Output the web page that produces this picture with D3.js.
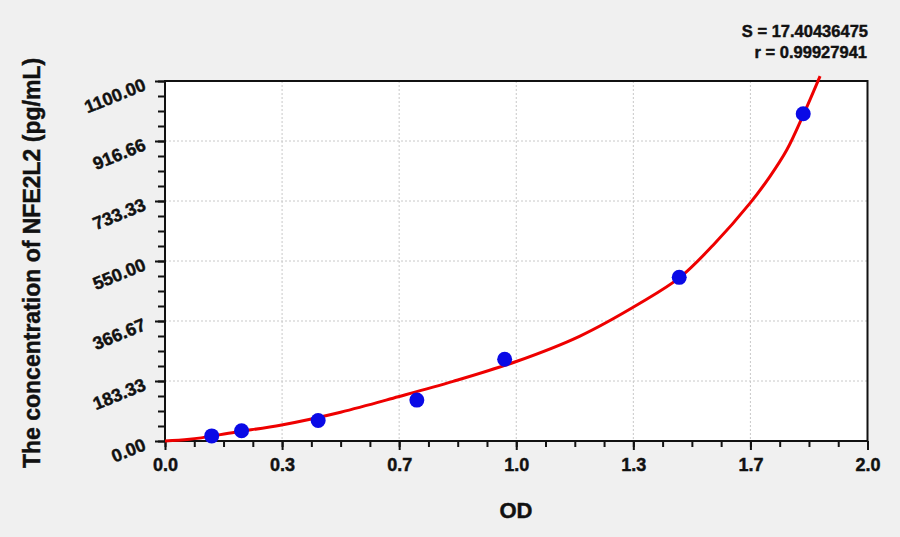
<!DOCTYPE html>
<html lang="en">
<head>
  <meta charset="UTF-8">
  <title>NFE2L2 standard curve</title>
  <style>
    body { margin: 0; background: #f0f0f0; }
    svg { font-family: "Liberation Sans", Arial, sans-serif; }
    svg text { stroke: #111; stroke-width: 0.45px; }
  </style>
</head>
<body>
  <svg id="chart" width="900" height="537"></svg>
<script src="https://cdn.jsdelivr.net/npm/d3@7"></script>
<script>
  // standards (OD, concentration)
  let odValues = [0.133, 0.218, 0.436, 0.717, 0.967, 1.464, 1.817]
  let concValues = [15.63, 31.25, 62.5, 125, 250, 500, 1000]

  // fitted curve
  let curveOd = [0, 0.07, 0.2, 0.332, 0.5, 0.664, 0.82, 1.0, 1.18, 1.352, 1.466, 1.561, 1.665, 1.722, 1.77, 1.817, 1.865]
  let curveConc = [0, 5, 27, 49, 88, 135, 182, 243, 320, 421, 500, 599, 726, 808, 889, 996, 1115]

  let xTicks = [0, 1/3, 2/3, 1, 4/3, 5/3, 2]
  let xTickLabels = ["0.0", "0.3", "0.7", "1.0", "1.3", "1.7", "2.0"]
  let yTicks = [0, 183.33, 366.67, 550, 733.33, 916.66, 1100]
  let yTickLabels = ["0.00", "183.33", "366.67", "550.00", "733.33", "916.66", "1100.00"]

  let statS = "S = 17.40436475"
  let statR = "r = 0.99927941"

  let svg = d3.select("#chart")
  let plotLeft = 165, plotRight = 867.5, plotTop = 81, plotBottom = 441

  let x = d3.scaleLinear().domain([0, 2]).range([plotLeft, plotRight])
  let y = d3.scaleLinear().domain([0, 1100]).range([plotBottom, plotTop])

  svg.append("rect")
     .attr("x", plotLeft).attr("y", plotTop)
     .attr("width", plotRight - plotLeft).attr("height", plotBottom - plotTop)
     .attr("fill", "white")

  // grid
  let grid = svg.append("g").attr("stroke", "#c8c8c8").attr("stroke-dasharray", "2,2").attr("stroke-width", 1)
  grid.selectAll(".gx").data(xTicks.slice(1, -1)).enter().append("line")
      .attr("x1", d => x(d)).attr("x2", d => x(d))
      .attr("y1", plotTop).attr("y2", plotBottom)
  grid.selectAll(".gy").data(yTicks.slice(1, -1)).enter().append("line")
      .attr("x1", plotLeft).attr("x2", plotRight)
      .attr("y1", d => y(d)).attr("y2", d => y(d))

  // minor ticks
  let xMinor = d3.range(0, 25).map(i => i / 12)
  let yMinor = d3.range(0, 25).map(i => i * 1100 / 24)

  let xAxis = d3.axisBottom(x).tickValues(xMinor).tickSize(6).tickFormat("")
  let yAxis = d3.axisLeft(y).tickValues(yMinor).tickSize(7).tickFormat("")

  svg.append("g").attr("transform", `translate(0,${plotBottom})`).call(xAxis)
  svg.append("g").attr("transform", `translate(${plotLeft},0)`).call(yAxis)
  let gx2 = svg.append("g").attr("transform", `translate(0,${plotBottom})`)
               .call(d3.axisBottom(x).tickValues(xTicks).tickSize(9).tickFormat((d, i) => xTickLabels[i]))
  let gy2 = svg.append("g").attr("transform", `translate(${plotLeft},0)`)
               .call(d3.axisLeft(y).tickValues(yTicks).tickSize(10).tickFormat((d, i) => yTickLabels[i]))

  svg.selectAll(".domain").remove()
  svg.selectAll(".tick line").attr("stroke", "#111").attr("stroke-width", 2)

  gx2.selectAll("text")
     .attr("y", 30).attr("dy", null)
     .attr("font-size", 18).attr("font-weight", "bold").attr("fill", "#111")
     .attr("font-family", "Liberation Sans, Arial, sans-serif")

  gy2.selectAll("text")
     .attr("x", null).attr("dy", null)
     .attr("text-anchor", "end")
     .attr("transform", "translate(-18,8) rotate(-22)")
     .attr("font-size", 18).attr("font-weight", "bold").attr("fill", "#111")
     .attr("font-family", "Liberation Sans, Arial, sans-serif")

  // frame
  svg.append("rect")
     .attr("x", plotLeft).attr("y", plotTop)
     .attr("width", plotRight - plotLeft).attr("height", plotBottom - plotTop)
     .attr("fill", "none").attr("stroke", "#111").attr("stroke-width", 2)

  // curve
  let curveData = curveOd.map((d, i) => [d, curveConc[i]])
  let line = d3.line().x(d => x(d[0])).y(d => y(d[1])).curve(d3.curveCatmullRom)
  svg.append("path")
     .datum(curveData)
     .attr("d", line)
     .attr("fill", "none")
     .attr("stroke", "#ee0000")
     .attr("stroke-width", 3)

  // points
  svg.append("g").selectAll("circle")
     .data(odValues.map((d, i) => [d, concValues[i]]))
     .enter().append("circle")
     .attr("cx", d => x(d[0]))
     .attr("cy", d => y(d[1]))
     .attr("r", 7.5)
     .attr("fill", "#0a0ae6")

  // axis titles
  svg.append("text")
     .attr("x", 516).attr("y", 518)
     .attr("text-anchor", "middle")
     .attr("font-size", 22).attr("font-weight", "bold").attr("fill", "#111")
     .text("OD")

  svg.append("text")
     .attr("transform", "translate(40,263) rotate(-90)")
     .attr("text-anchor", "middle")
     .attr("font-size", 23).attr("font-weight", "bold").attr("fill", "#111")
     .text("The concentration of NFE2L2 (pg/mL)")

  // fit stats
  svg.append("text")
     .attr("x", 868).attr("y", 37)
     .attr("text-anchor", "end")
     .attr("font-size", 16.5).attr("font-weight", "bold").attr("fill", "#111")
     .text(statS)
  svg.append("text")
     .attr("x", 867).attr("y", 58)
     .attr("text-anchor", "end")
     .attr("font-size", 16.5).attr("font-weight", "bold").attr("fill", "#111")
     .text(statR)
</script>
</body>
</html>
